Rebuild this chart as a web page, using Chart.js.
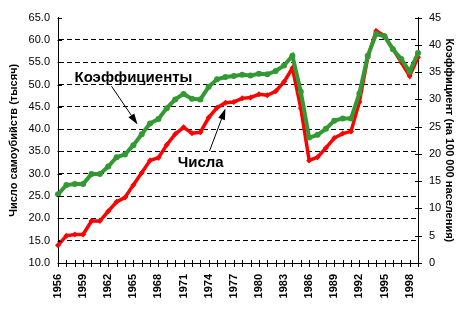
<!DOCTYPE html>
<html>
<head>
<meta charset="utf-8">
<script src="https://cdn.jsdelivr.net/npm/chart.js@4.4.0/dist/chart.umd.min.js"></script>
<style>
  html, body { margin: 0; padding: 0; background: #fff; }
  #wrap { width: 471px; height: 318px; }
</style>
</head>
<body>
<div id="wrap"><canvas id="suicideChart"></canvas></div>
<script>
// Data
const years = [1956, 1957, 1958, 1959, 1960, 1961, 1962, 1963, 1964, 1965,
    1966, 1967, 1968, 1969, 1970, 1971, 1972, 1973, 1974, 1975,
    1976, 1977, 1978, 1979, 1980, 1981, 1982, 1983, 1984, 1985,
    1986, 1987, 1988, 1989, 1990, 1991, 1992, 1993, 1994, 1995,
    1996, 1997, 1998, 1999]

// suicides, thousands (left axis)
const counts = [14.0, 16.1, 16.4, 16.4, 19.4, 19.4, 21.6, 23.7, 24.7, 27.5,
    30.2, 33.0, 33.6, 36.5, 38.9, 40.4, 39.1, 39.3, 42.6, 44.8,
    45.9, 46.1, 46.9, 47.1, 47.8, 47.6, 48.5, 50.6, 53.7, 44.7,
    33.0, 33.7, 35.8, 38.0, 39.0, 39.5, 46.1, 56.1, 62.0, 60.9,
    58.0, 55.0, 51.9, 56.1]

// rate per 100 000 (right axis)
const rates = [12.6, 14.3, 14.5, 14.5, 16.3, 16.3, 17.7, 19.4, 19.9, 21.6,
    23.6, 25.6, 26.4, 28.4, 30.0, 31.0, 30.1, 30.0, 32.3, 33.7,
    34.1, 34.3, 34.5, 34.4, 34.7, 34.6, 35.2, 36.2, 38.0, 31.4,
    23.0, 23.5, 24.6, 26.1, 26.5, 26.5, 31.1, 38.0, 42.0, 41.6,
    39.2, 37.4, 35.1, 38.5]

const leftTitle = 'Число самоубийств (тысяч)'
const rightTitle = 'Коэффициент (на 100 000 населения)'

// callouts: text anchor + arrow, in data units (category index, axis value)
const callouts = [
    { text: 'Коэффициенты', axis: 'y2', tx: 1.97, ty: 33.9, from: [6.4, 32.4], to: [9.5, 25.4] },
    { text: 'Числа', axis: 'y', tx: 14.3, ty: 32.4, from: [18.1, 35.1], to: [20.0, 44.6] }
]

const GREEN = '#339933'
const RED = '#ff0000'
const FONT = 'Arial, "Liberation Sans", sans-serif'

Chart.defaults.font.family = FONT
Chart.defaults.color = '#000'

// tick marks on the axes (drawn by hand to get the Excel-style crossing ticks)
const axisTicks = {
    id: 'axisTicks',
    afterDraw(chart) {
        const ctx = chart.ctx
        const x = chart.scales.x, y = chart.scales.y, y2 = chart.scales.y2
        ctx.save()
        ctx.strokeStyle = '#000'
        ctx.lineWidth = 1
        ctx.beginPath()
        y.ticks.forEach((t, i) => {
            const py = Math.round(y.getPixelForTick(i)) + 0.5
            ctx.moveTo(chart.chartArea.left - 0.5, py)
            ctx.lineTo(chart.chartArea.left + 4, py)
        })
        y2.ticks.forEach((t, i) => {
            const py = Math.round(y2.getPixelForTick(i)) + 0.5
            ctx.moveTo(chart.chartArea.right - 3, py)
            ctx.lineTo(chart.chartArea.right + 4, py)
        })
        years.forEach((yr, i) => {
            const px = Math.round(x.getPixelForValue(i)) + 0.5
            ctx.moveTo(px, chart.chartArea.bottom - 3)
            ctx.lineTo(px, chart.chartArea.bottom + 4)
        })
        ctx.stroke()
        ctx.restore()
    }
}

const calloutPlugin = {
    id: 'callouts',
    afterDatasetsDraw(chart) {
        const ctx = chart.ctx
        const xs = chart.scales.x
        ctx.save()
        ctx.font = 'bold 15px ' + FONT
        ctx.fillStyle = '#000'
        ctx.strokeStyle = '#000'
        ctx.textBaseline = 'middle'
        callouts.forEach(c => {
            const ys = chart.scales[c.axis]
            ctx.fillText(c.text, xs.getPixelForValue(c.tx), ys.getPixelForValue(c.ty))
            const x1 = xs.getPixelForValue(c.from[0]), y1 = ys.getPixelForValue(c.from[1])
            const x2 = xs.getPixelForValue(c.to[0]), y2 = ys.getPixelForValue(c.to[1])
            const a = Math.atan2(y2 - y1, x2 - x1)
            const len = 11, half = 3.5
            const bx = x2 - len * Math.cos(a), by = y2 - len * Math.sin(a)
            ctx.lineWidth = 1
            ctx.beginPath()
            ctx.moveTo(x1, y1)
            ctx.lineTo(bx, by)
            ctx.stroke()
            ctx.beginPath()
            ctx.moveTo(x2, y2)
            ctx.lineTo(bx + half * Math.sin(a), by - half * Math.cos(a))
            ctx.lineTo(bx - half * Math.sin(a), by + half * Math.cos(a))
            ctx.closePath()
            ctx.fill()
        })
        ctx.restore()
    }
}

const ctx = document.getElementById('suicideChart').getContext('2d')
const suicideChart = new Chart(ctx, {
    type: 'line',
    data: {
        labels: years,
        datasets: [
            {
                label: 'Коэффициенты',
                data: rates,
                yAxisID: 'y2',
                borderColor: GREEN,
                backgroundColor: GREEN,
                borderWidth: 4,
                pointStyle: 'circle',
                pointRadius: 3,
                pointBorderWidth: 0,
                tension: 0
            },
            {
                label: 'Числа',
                data: counts,
                yAxisID: 'y',
                borderColor: RED,
                backgroundColor: RED,
                borderWidth: 3.5,
                pointStyle: 'rectRot',
                pointRadius: 3,
                pointBorderWidth: 0,
                tension: 0
            }
        ]
    },
    options: {
        responsive: true,
        maintainAspectRatio: false,
        animation: false,
        devicePixelRatio: 1,
        layout: { padding: { top: 15, left: 0, right: 0, bottom: 0 } },
        plugins: {
            legend: { display: false },
            tooltip: { enabled: false }
        },
        scales: {
            x: {
                type: 'category',
                offset: false,
                grid: { display: false, drawTicks: false },
                border: { display: true, color: '#000', width: 1 },
                ticks: {
                    autoSkip: false,
                    minRotation: 90,
                    maxRotation: 90,
                    padding: 11,
                    font: { size: 11, weight: 'bold' },
                    callback: (v, i) => (i % 3 === 0 ? years[i] : '')
                },
                afterFit: s => { s.height = 55 }
            },
            y: {
                position: 'left',
                min: 10,
                max: 65,
                grid: {
                    drawTicks: false,
                    color: c => (c.tick.value === 10 || c.tick.value === 65 ? 'rgba(0,0,0,0)' : '#000'),
                    lineWidth: 1
                },
                border: { display: true, color: '#000', width: 1, dash: [5, 3] },
                ticks: {
                    stepSize: 5,
                    padding: 8,
                    font: { size: 11 },
                    callback: v => v.toFixed(1)
                },
                title: {
                    display: true,
                    text: leftTitle,
                    font: { size: 11, weight: 'bold' },
                    padding: { top: 7, bottom: 0 }
                },
                afterFit: s => { s.width = 58 }
            },
            y2: {
                position: 'right',
                min: 0,
                max: 45,
                grid: { drawOnChartArea: false, drawTicks: false },
                border: { display: true, color: '#000', width: 1 },
                ticks: {
                    stepSize: 5,
                    padding: 11,
                    font: { size: 11 }
                },
                title: {
                    display: true,
                    text: rightTitle,
                    font: { size: 11, weight: 'bold' },
                    padding: { top: 15, bottom: 0 }
                },
                afterFit: s => { s.width = 53 }
            }
        }
    },
    plugins: [axisTicks, calloutPlugin]
})
</script>
</body>
</html>
